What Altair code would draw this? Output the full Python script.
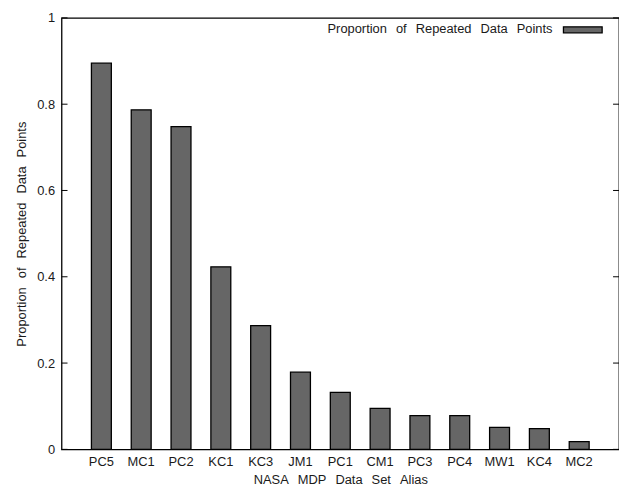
import altair as alt
import pandas as pd

datasets = ["PC5", "MC1", "PC2", "KC1", "KC3", "JM1", "PC1", "CM1", "PC3", "PC4", "MW1", "KC4", "MC2"]
proportions = [0.895, 0.787, 0.748, 0.423, 0.287, 0.179, 0.132, 0.095, 0.078, 0.078, 0.051, 0.048, 0.018]
y_ticks = [0, 0.2, 0.4, 0.6, 0.8, 1.0]

GAP = "\u2002\u2009"
legend_label = GAP.join(["Proportion", "of", "Repeated", "Data", "Points"])
x_title = GAP.join(["NASA", "MDP", "Data", "Set", "Alias"])
y_title = GAP.join(["Proportion", "of", "Repeated", "Data", "Points"])

df = pd.DataFrame({"dataset": datasets, "prop": proportions})
ticks_df = pd.DataFrame({"v": y_ticks})

W, H = 562, 435
FONT = "Liberation Sans"
FS = 13
TXT = "#1a1a1a"

x_enc = alt.X("dataset:N", sort=datasets,
              scale=alt.Scale(paddingInner=0.5, paddingOuter=0.75),
              axis=alt.Axis(title=x_title, labelAngle=0, ticks=False,
                            domain=False, labelPadding=6, titlePadding=5,
                            labelFont=FONT, titleFont=FONT, labelFontSize=FS,
                            titleFontSize=FS, titleFontWeight="normal",
                            labelColor=TXT, titleColor=TXT))
y_scale = alt.Scale(domain=[0, 1], nice=False)

bars = alt.Chart(df).mark_bar(color="#666666", stroke="black", strokeWidth=1.3).encode(
    x=x_enc,
    y=alt.Y("prop:Q", scale=y_scale,
            axis=alt.Axis(title=y_title, values=y_ticks,
                          format="~g", ticks=False, domain=False, grid=False,
                          labelPadding=7, titlePadding=8,
                          labelFont=FONT, titleFont=FONT, labelFontSize=FS,
                          titleFontSize=FS, titleFontWeight="normal",
                          labelColor=TXT, titleColor=TXT)),
)

left_ticks = alt.Chart(ticks_df).mark_rule(color="black").encode(
    y=alt.Y("v:Q", scale=y_scale), x=alt.value(0), x2=alt.value(6))
right_ticks = alt.Chart(ticks_df).mark_rule(color="black").encode(
    y=alt.Y("v:Q", scale=y_scale), x=alt.value(W - 6), x2=alt.value(W))

legend_text = alt.Chart(pd.DataFrame({"t": [legend_label]})).mark_text(
    align="right", baseline="middle", font=FONT, fontSize=FS, color=TXT).encode(
    text="t:N", x=alt.value(495), y=alt.value(11))
legend_swatch = alt.Chart(pd.DataFrame({"t": [legend_label]})).mark_rect(
    color="#666666", stroke="black", strokeWidth=1.3).encode(
    x=alt.value(506), x2=alt.value(545), y=alt.value(9), y2=alt.value(15))

chart = alt.layer(bars, left_ticks, right_ticks, legend_text, legend_swatch).properties(
    width=W, height=H,
    autosize=alt.AutoSizeParams(type="none"),
    padding={"left": 54, "top": 8, "right": 0, "bottom": 40},
    background="white",
).configure_view(stroke="black", strokeWidth=1.3)

chart.save("out.html", embed_options={"renderer": "svg", "actions": False})
